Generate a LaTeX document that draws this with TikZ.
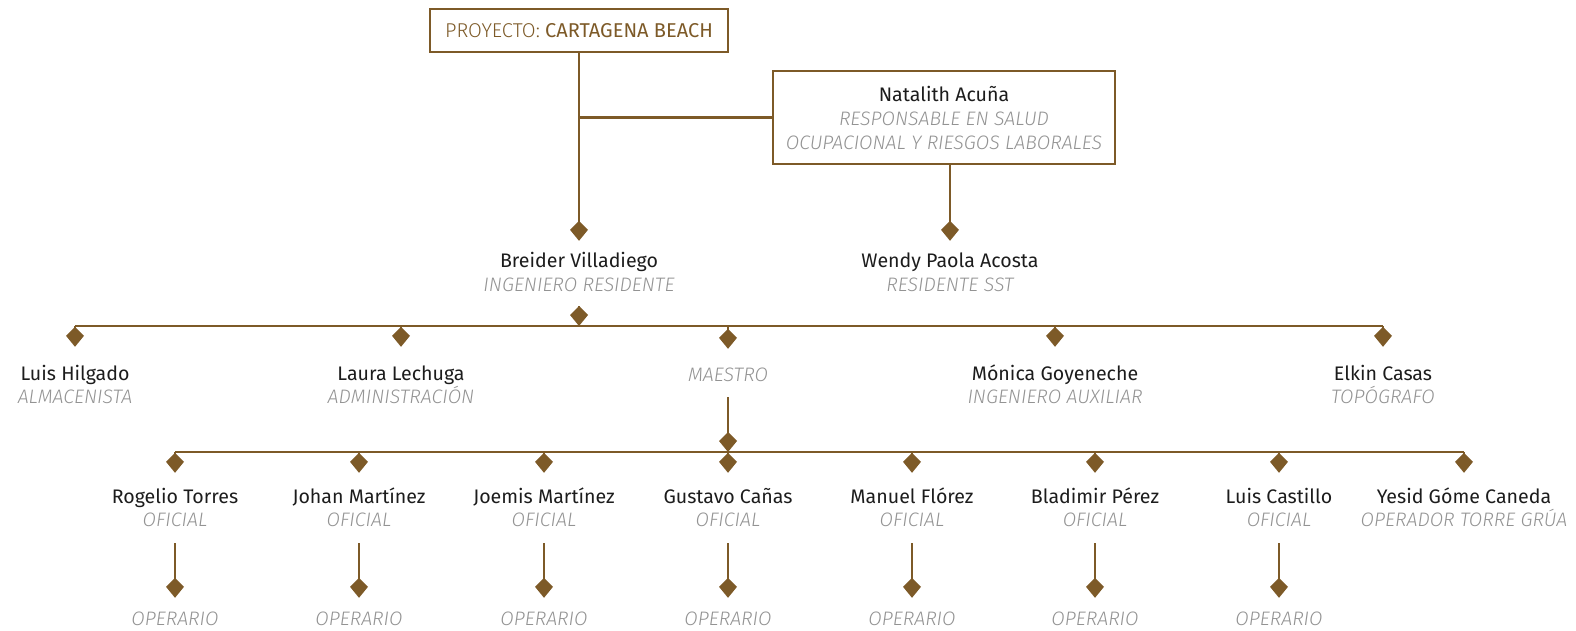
\documentclass[tikz,border=0pt]{standalone}
\usepackage{fontspec}
\setmainfont{Fira Sans}
\newfontfamily\ligera{Fira Sans Light}
\usetikzlibrary{arrows.meta}
\definecolor{marron}{HTML}{7D5A28}
\definecolor{gristexto}{HTML}{939393}
\definecolor{tinta}{HTML}{1C1C1C}
\tikzset{
  nombre/.style={font=\fontsize{19.6}{24}\selectfont, text=tinta, inner sep=0pt,
    anchor=base, text height=15pt, text depth=4pt},
  cargo/.style={font=\ligera\itshape\fontsize{19.5}{24}\selectfont, text=gristexto,
    inner sep=0pt, anchor=base, text height=14pt, text depth=4pt},
  linea/.style={draw=marron, line width=2.5pt},
  flecha/.style={linea, -{Kite[length=20pt, width=18pt, inset=9pt]}},
  caja/.style={draw=marron, line width=2.5pt, fill=white, align=center, inner sep=0pt}
}
\begin{document}
\begin{tikzpicture}[x=1pt, y=-1pt]
  \useasboundingbox (0,0) rectangle (1576,631);
  % Proyecto y responsable SST
  \node[caja, minimum width=298pt, minimum height=43pt, text=marron,
    font=\fontsize{20}{24}\selectfont] (proyecto) at (579,30.5)
    {{\ligera PROYECTO:} CARTAGENA BEACH};
  \node[caja, minimum width=342pt, minimum height=93pt,
    font=\fontsize{19.6}{24}\selectfont] (natalith) at (944,117.5)
    {\textcolor{tinta}{Natalith Acuña}\\
     \textcolor{gristexto}{\ligera\itshape\fontsize{19.5}{24}\selectfont RESPONSABLE EN SALUD}\\
     \textcolor{gristexto}{\ligera\itshape\fontsize{19.5}{24}\selectfont OCUPACIONAL Y RIESGOS LABORALES}};
  % Residentes
  \node[nombre] (breider) at (579,267) {Breider Villadiego};
  \node[cargo] (breider-cargo) at (579,291) {INGENIERO RESIDENTE};
  \node[nombre] (wendy) at (950,267) {Wendy Paola Acosta};
  \node[cargo] (wendy-cargo) at (950,291) {RESIDENTE SST};
  \draw[flecha, shorten >=11pt] (proyecto.south) -- (breider.north);
  \draw[linea] (natalith.west) -- (natalith.west -| proyecto.south);
  \draw[flecha, shorten >=11pt] (natalith.south -| wendy.north) -- (wendy.north);
  % Segundo nivel
  \node[nombre] (luis) at (75,380) {Luis Hilgado};
  \node[cargo] (luis-cargo) at (75,403) {ALMACENISTA};
  \node[nombre] (laura) at (401,380) {Laura Lechuga};
  \node[cargo] (laura-cargo) at (401,403) {ADMINISTRACIÓN};
  \node[cargo] (maestro) at (728,381) {MAESTRO};
  \node[nombre] (monica) at (1055,380) {Mónica Goyeneche};
  \node[cargo] (monica-cargo) at (1055,403) {INGENIERO AUXILIAR};
  \node[nombre] (elkin) at (1383,380) {Elkin Casas};
  \node[cargo] (elkin-cargo) at (1383,403) {TOPÓGRAFO};
  \coordinate (bus1) at (579,326);
  \draw[flecha, shorten <=11pt] (breider-cargo.south) -- (bus1);
  \draw[linea] (luis |- bus1) -- (elkin |- bus1);
  \foreach \id in {luis, laura, maestro, monica, elkin}
    \draw[flecha, shorten >=18pt] (\id |- bus1) -- (\id.north);
  % Oficiales y operarios
  \foreach \id/\x/\nom/\car in {rogelio/175/Rogelio Torres/OFICIAL,
      johan/359/Johan Martínez/OFICIAL, joemis/544/Joemis Martínez/OFICIAL,
      gustavo/728/Gustavo Cañas/OFICIAL, manuel/912/Manuel Flórez/OFICIAL,
      bladimir/1095/Bladimir Pérez/OFICIAL, castillo/1279/Luis Castillo/OFICIAL,
      yesid/1464/Yesid Góme Caneda/OPERADOR TORRE GRÚA} {
    \node[nombre] (\id) at (\x,503) {\nom};
    \node[cargo] (\id-cargo) at (\x,526) {\car};
  }
  \coordinate (bus2) at (728,452);
  \draw[flecha, shorten <=12pt] (maestro.south) -- (bus2);
  \draw[linea] (rogelio |- bus2) -- (yesid |- bus2);
  \foreach \id in {rogelio, johan, joemis, gustavo, manuel, bladimir, castillo, yesid}
    \draw[flecha, shorten >=15pt] (\id |- bus2) -- (\id.north);
  \foreach \id/\x in {rogelio/175, johan/359, joemis/544, gustavo/728,
      manuel/912, bladimir/1095, castillo/1279} {
    \node[cargo] (\id-op) at (\x,625) {OPERARIO};
    \draw[flecha, shorten <=13pt, shorten >=13pt] (\id-cargo.south) -- (\id-op.north);
  }
\end{tikzpicture}
\end{document}
